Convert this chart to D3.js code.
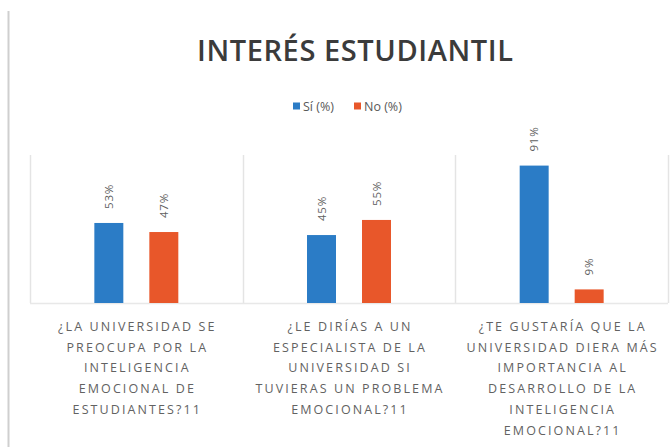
<!DOCTYPE html>
<html>
<head>
<meta charset="utf-8">
<script src="https://cdn.jsdelivr.net/npm/d3@7"></script>
<style>
  html, body { margin: 0; padding: 0; background: #fff; }
  svg { display: block; }
</style>
</head>
<body>
<script>
// Survey questions (x categories), each broken into display lines
const categories = [
  ["¿LA UNIVERSIDAD SE", "PREOCUPA POR LA", "INTELIGENCIA", "EMOCIONAL DE", "ESTUDIANTES?11"],
  ["¿LE DIRÍAS A UN", "ESPECIALISTA DE LA", "UNIVERSIDAD SI", "TUVIERAS UN PROBLEMA", "EMOCIONAL?11"],
  ["¿TE GUSTARÍA QUE LA", "UNIVERSIDAD DIERA MÁS", "IMPORTANCIA AL", "DESARROLLO DE LA", "INTELIGENCIA", "EMOCIONAL?11"]
];
const seriesNames = ["Sí (%)", "No (%)"];
const siValues = [53, 45, 91];
const noValues = [47, 55, 9];
const colors = ["#2b7cc6", "#e8572a"];

const W = 671, H = 447;
const svg = d3.select("body").append("svg").attr("width", W).attr("height", H);

// outer frame edge on the left
svg.append("line").attr("x1", 8.5).attr("x2", 8.5).attr("y1", 11).attr("y2", H)
  .attr("stroke", "#cfcfcf").attr("stroke-width", 2);

const plot = { left: 30, right: 668, top: 152, bottom: 303 };
const catIdx = categories.map((d, i) => i);

const x0 = d3.scaleBand().domain(catIdx).range([plot.left, plot.right]).paddingInner(0).paddingOuter(0);
const x1 = d3.scaleBand().domain(seriesNames).range([0, x0.bandwidth()])
  .paddingInner(0.473).paddingOuter(1.17);
const y = d3.scaleLinear().domain([0, 100]).range([plot.bottom, plot.top]);

// Title
svg.append("text")
  .attr("x", 355).attr("y", 61)
  .attr("text-anchor", "middle")
  .attr("font-family", "'Open Sans', sans-serif")
  .attr("font-weight", 600)
  .attr("font-size", 29)
  .attr("fill", "#3b3b3b")
  .attr("textLength", 316).attr("lengthAdjust", "spacing")
  .text("INTERÉS ESTUDIANTIL");

// Legend
const legendX = [293, 354];
const legend = svg.append("g");
seriesNames.forEach((name, i) => {
  legend.append("rect").attr("x", legendX[i]).attr("y", 102.5).attr("width", 7).attr("height", 7)
    .attr("fill", colors[i]);
  legend.append("text").attr("x", legendX[i] + 10).attr("y", 110.5)
    .attr("font-family", "'Open Sans', sans-serif").attr("font-size", 12.5)
    .attr("fill", "#595959").text(name);
});

// Category separators (tick lines between categories) and baseline
const sepXs = catIdx.map(i => x0(i)).concat([x0(catIdx.length - 1) + x0.bandwidth()]);
svg.append("g").selectAll("line").data(sepXs).join("line")
  .attr("x1", d => Math.round(d) + 0.5).attr("x2", d => Math.round(d) + 0.5)
  .attr("y1", 155).attr("y2", plot.bottom)
  .attr("stroke", "#e4e4e4").attr("stroke-width", 1.5);
svg.append("line").attr("x1", plot.left).attr("x2", plot.right)
  .attr("y1", plot.bottom + 0.5).attr("y2", plot.bottom + 0.5)
  .attr("stroke", "#e8e8e8").attr("stroke-width", 1.5);

// Bars
const rows = catIdx.map(i => [siValues[i], noValues[i]]);
const groups = svg.append("g").selectAll("g").data(rows).join("g")
  .attr("transform", (d, i) => `translate(${x0(i)},0)`);

groups.selectAll("rect").data(d => d.map((v, j) => ({ v, s: seriesNames[j], j })))
  .join("rect")
  .attr("x", d => x1(d.s))
  .attr("width", x1.bandwidth())
  .attr("y", d => y(d.v))
  .attr("height", d => y(0) - y(d.v))
  .attr("fill", d => colors[d.j]);

// Rotated value labels
groups.selectAll("text").data(d => d.map((v, j) => ({ v, s: seriesNames[j], j })))
  .join("text")
  .attr("transform", d => `translate(${x1(d.s) + x1.bandwidth() / 2},${y(d.v) - 14}) rotate(-90)`)
  .attr("dy", "0.35em")
  .attr("text-anchor", "start")
  .attr("font-family", "'Open Sans', sans-serif")
  .attr("font-size", 11.5)
  .attr("letter-spacing", 0.8)
  .attr("fill", "#5f5f5f")
  .text(d => d.v + "%");

// Category labels
const labels = svg.append("g").selectAll("text").data(categories).join("text")
  .attr("text-anchor", "middle")
  .attr("font-family", "'Open Sans', sans-serif")
  .attr("font-size", 12.5)
  .attr("letter-spacing", 2.1)
  .attr("fill", "#626262");
labels.each(function(lines, i) {
  const cx = x0(i) + x0.bandwidth() / 2 + 1;
  d3.select(this).selectAll("tspan").data(lines).join("tspan")
    .attr("x", cx)
    .attr("y", (d, k) => 331 + k * 20.7)
    .text(d => d);
});
</script>
</body>
</html>
